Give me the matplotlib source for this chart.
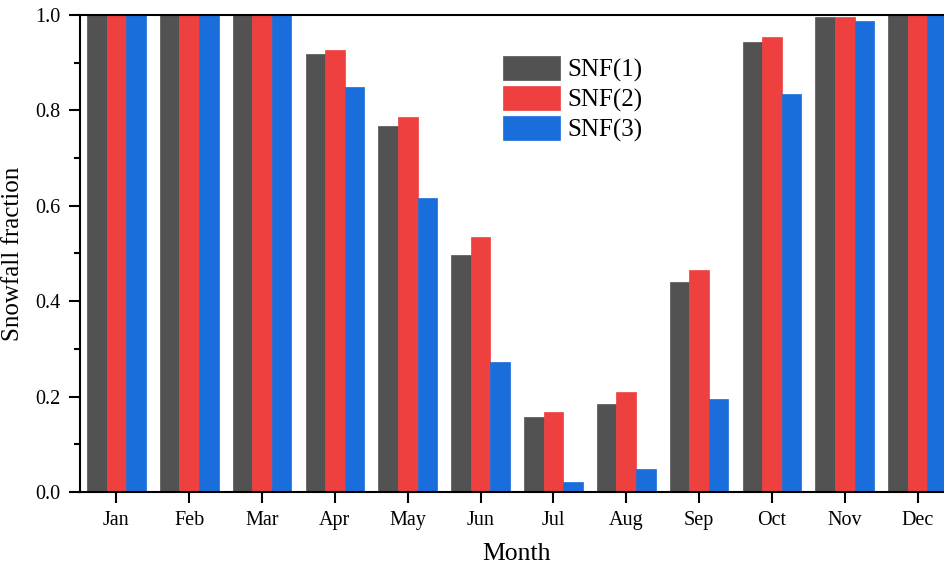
import matplotlib
matplotlib.use("Agg")
import matplotlib.pyplot as plt
import numpy as np
from matplotlib.ticker import MultipleLocator, FormatStrFormatter

plt.rcParams['font.family'] = ['Liberation Serif', 'DejaVu Serif']

months = ["Jan", "Feb", "Mar", "Apr", "May", "Jun",
          "Jul", "Aug", "Sep", "Oct", "Nov", "Dec"]
snf1 = [1.0, 1.0, 1.0, 0.918, 0.767, 0.497, 0.157, 0.184, 0.440, 0.943, 0.996, 1.0]
snf2 = [1.0, 1.0, 1.0, 0.927, 0.786, 0.535, 0.168, 0.210, 0.465, 0.954, 0.996, 1.0]
snf3 = [1.0, 1.0, 1.0, 0.849, 0.616, 0.273, 0.021, 0.048, 0.195, 0.834, 0.987, 1.0]
series_names = ["SNF(1)", "SNF(2)", "SNF(3)"]
colors = ["#525252", "#EF4040", "#1A6EDB"]

W, H = 945, 572
fig = plt.figure(figsize=(W / 100, H / 100), dpi=100)
ax = fig.add_axes([80 / W, 1 - 492 / H, (954 - 80) / W, (492 - 15) / H])

x = np.arange(1, len(months) + 1)
bw = 0.268
for i, (vals, name, c) in enumerate(zip([snf1, snf2, snf3], series_names, colors)):
    ax.bar(x + (i - 1) * bw, vals, width=bw, color=c, label=name,
           edgecolor=c, linewidth=0.5)

ax.set_xlim(0.5, 12.5)
ax.set_ylim(0, 1.0)
ax.set_xticks(x)
ax.set_xticklabels(months)
ax.yaxis.set_major_locator(MultipleLocator(0.2))
ax.yaxis.set_minor_locator(MultipleLocator(0.1))
ax.yaxis.set_major_formatter(FormatStrFormatter('%.1f'))

for s in ax.spines.values():
    s.set_linewidth(1.5)
ax.tick_params(axis='both', which='major', direction='out', length=8, width=1.5,
               labelsize=14.5, pad=6)
ax.tick_params(axis='y', which='minor', direction='out', length=4, width=1.5)
ax.tick_params(axis='x', which='minor', bottom=False)

ax.set_ylabel("Snowfall fraction", fontsize=18, labelpad=8)
ax.set_xlabel("Month", fontsize=18.5, labelpad=9)

leg = ax.legend(loc='upper left', bbox_to_anchor=((486 - 80) / (954 - 80), 1 - (38 - 15) / 477),
                frameon=False, fontsize=18, handlelength=2.25, handleheight=1.15,
                labelspacing=0.15, handletextpad=0.3, borderpad=0.2)

fig.savefig("out.png", dpi=100)
